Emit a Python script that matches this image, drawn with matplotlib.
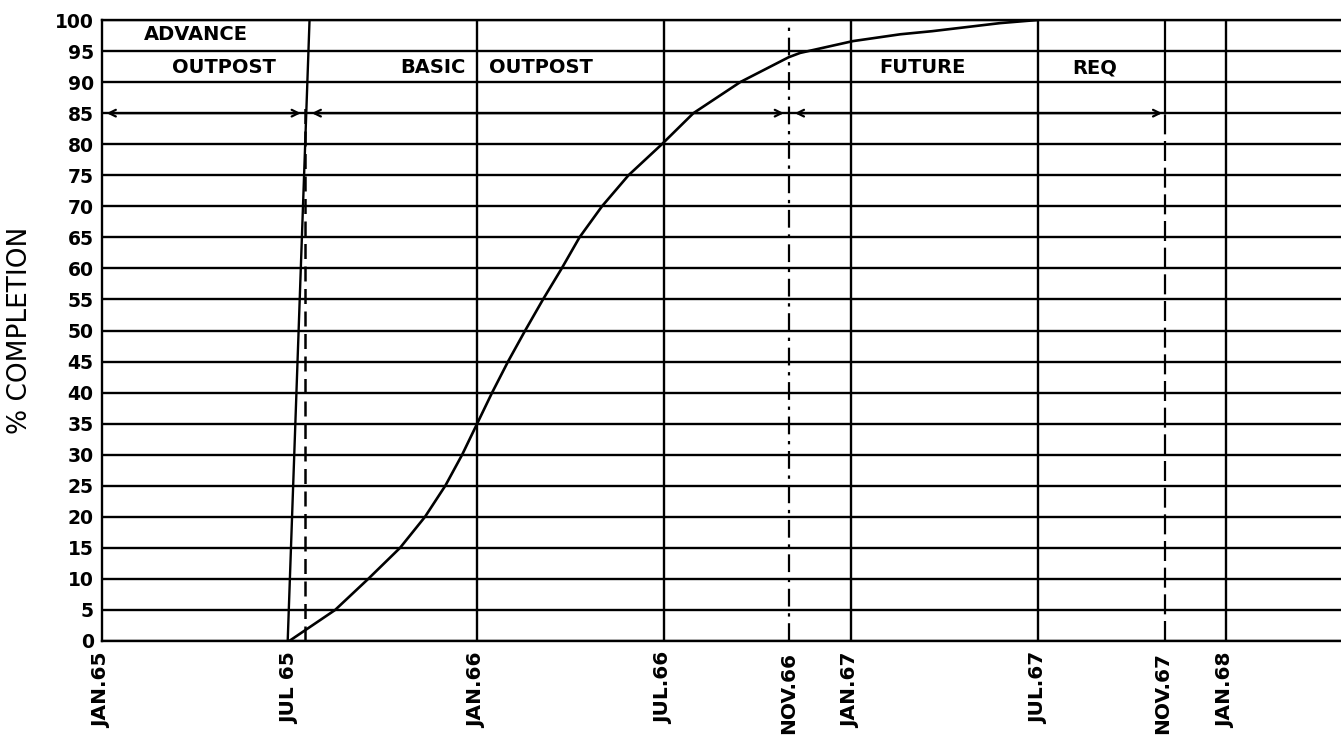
import matplotlib
matplotlib.use("Agg")
import matplotlib.pyplot as plt

# x positions are months since JAN 1965
tick_months = [0, 6, 12, 18, 22, 24, 30, 34, 36]
tick_labels = ["JAN.65", "JUL 65", "JAN.66", "JUL.66", "NOV.66", "JAN.67", "JUL.67", "NOV.67", "JAN.68"]
grid_months = [12, 18, 24, 30, 36]
y_ticks = list(range(0, 101, 5))
y_labels = [str(v) for v in y_ticks]

# Advance outpost completion (nearly vertical line)
adv_x = [5.95, 6.65]
adv_y = [0, 100]

# Basic outpost completion curve
basic_x = [6.0, 7.47, 8.53, 9.55, 10.35, 11.0, 11.54, 12.02, 12.5, 13.01, 13.56,
           14.13, 14.73, 15.30, 16.02, 16.87, 17.94, 18.95, 20.45, 22.0, 22.37, 24.06,
           25.58, 26.6, 28.78, 29.97]
basic_y = [0, 5, 10, 15, 20, 25, 30, 35, 40, 45, 50,
           55, 60, 65, 70, 75, 80, 85, 90, 94.0, 94.7, 96.6,
           97.7, 98.2, 99.5, 100]

# Phase boundaries
advance_end = 6.52
basic_end = 22.0
future_end = 34.07
arrow_level = 85

header_labels = ["ADVANCE", "OUTPOST", "BASIC", "OUTPOST", "FUTURE", "REQ"]
header_x = [3.0, 3.9, 10.6, 14.05, 26.3, 31.8]
header_y = [97.6, 92.3, 92.3, 92.3, 92.3, 92.3]

W, H = 1341, 752
fig = plt.figure(figsize=(W / 100, H / 100), dpi=100)
ax = fig.add_axes([102 / W, 1 - 641 / H, 1 - 102 / W, (641 - 20) / H])
ax.set_xlim(0, 39.7)
ax.set_ylim(0, 100)

lw = 1.7
for v in y_ticks:
    ax.axhline(v, color="black", lw=lw, zorder=1)
for m in grid_months:
    ax.axvline(m, color="black", lw=lw, zorder=1)

ax.spines["right"].set_visible(False)
for s in ["left", "bottom", "top"]:
    ax.spines[s].set_linewidth(lw)

ax.plot(adv_x, adv_y, color="black", lw=lw, zorder=3)
ax.plot(basic_x, basic_y, color="black", lw=1.9, zorder=3)

# phase boundary lines
ax.plot([advance_end, advance_end], [0, 86], color="black", lw=1.8, ls=(0, (6, 3)), zorder=3)
ax.plot([basic_end, basic_end], [0, 100], color="black", lw=1.6, ls=(0, (8, 3, 1.5, 3)), zorder=3)
ax.plot([future_end, future_end], [arrow_level, 100], color="black", lw=1.6, zorder=3)
ax.plot([future_end, future_end], [0, arrow_level], color="black", lw=1.6, ls=(0, (9, 3)), zorder=3)

# arrows at 85 level
ap = dict(arrowstyle="<->", color="black", lw=1.6, mutation_scale=12, shrinkA=0, shrinkB=0)
ax.annotate("", xy=(0.15, arrow_level), xytext=(advance_end - 0.15, arrow_level), arrowprops=ap)
ax.annotate("", xy=(advance_end + 0.2, arrow_level), xytext=(basic_end - 0.15, arrow_level), arrowprops=ap)
ax.annotate("", xy=(basic_end + 0.2, arrow_level), xytext=(future_end - 0.1, arrow_level), arrowprops=ap)

for t, x, y in zip(header_labels, header_x, header_y):
    ax.text(x, y, t, ha="center", va="center", fontsize=14, fontweight="bold", zorder=4)

ax.set_xticks(tick_months)
ax.set_xticklabels(tick_labels, rotation=90, fontsize=14.5, fontweight="bold")
ax.set_yticks(y_ticks)
ax.set_yticklabels(y_labels, fontsize=13.5, fontweight="bold")
ax.tick_params(axis="both", length=0)
ax.tick_params(axis="x", pad=8)
ax.tick_params(axis="y", pad=6)

fig.text(20 / W, 1 - 330 / H, "% COMPLETION", rotation=90, ha="center", va="center", fontsize=19)

fig.savefig("out.png", dpi=100, facecolor="white")
